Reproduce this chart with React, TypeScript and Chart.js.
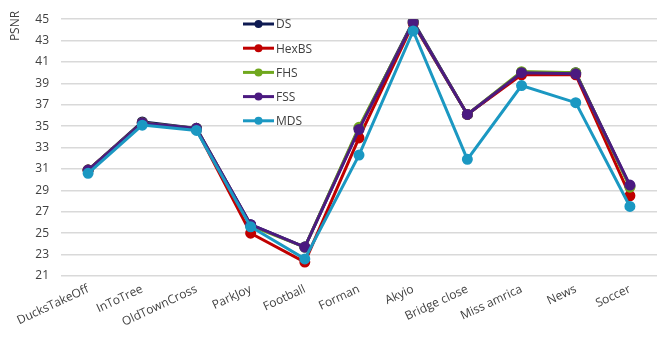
import React, { useEffect, useRef } from "react";
import { Chart, registerables } from "chart.js";

Chart.register(...registerables);

const categories = ["DucksTakeOff", "InToTree", "OldTownCross", "ParkJoy", "Football", "Forman", "Akyio", "Bridge close", "Miss amrica", "News", "Soccer"];
const seriesNames = ["DS", "HexBS", "FHS", "FSS", "MDS"];
const dsValues = [30.9, 35.4, 34.8, 25.8, 23.7, 34.8, 44.8, 36.1, 40.0, 40.0, 29.4];
const hexbsValues = [30.9, 35.3, 34.7, 25.0, 22.3, 33.9, 44.6, 36.1, 39.8, 39.8, 28.5];
const fhsValues = [30.9, 35.3, 34.8, 25.7, 23.7, 34.9, 44.7, 36.1, 40.1, 40.0, 29.3];
const fssValues = [30.9, 35.3, 34.8, 25.8, 23.7, 34.7, 44.7, 36.1, 40.0, 39.9, 29.5];
const mdsValues = [30.6, 35.1, 34.6, 25.6, 22.6, 32.3, 43.9, 31.9, 38.8, 37.2, 27.5];
const seriesColors = ["#0e1a52", "#c00000", "#70a81e", "#4b1a80", "#1b98c2"];
const yMin = 21;
const yMax = 45;
const yStep = 2;

const FONT = "'Open Sans', 'Liberation Sans', sans-serif";

const legendPlugin = {
  id: "insideLegend",
  afterDraw(chart: any) {
    const ctx = chart.ctx;
    ctx.save();
    chart.data.datasets.forEach((ds: any, i: number) => {
      const y = 24 + i * 24.2;
      ctx.strokeStyle = ds.borderColor;
      ctx.lineWidth = 3;
      ctx.beginPath();
      ctx.moveTo(243, y);
      ctx.lineTo(274, y);
      ctx.stroke();
      ctx.fillStyle = ds.borderColor;
      ctx.beginPath();
      ctx.arc(258.5, y, 4, 0, Math.PI * 2);
      ctx.fill();
      ctx.fillStyle = "#404040";
      ctx.font = `12px ${FONT}`;
      ctx.textBaseline = "middle";
      ctx.textAlign = "left";
      ctx.fillText(ds.label, 276, y + 1);
    });
    ctx.translate(16, 26);
    ctx.rotate(-Math.PI / 2);
    ctx.fillStyle = "#404040";
    ctx.font = `12px ${FONT}`;
    ctx.textAlign = "center";
    ctx.textBaseline = "middle";
    ctx.fillText("PSNR", 0, 0);
    ctx.restore();
  },
};

export default function App() {
  const ref = useRef<HTMLCanvasElement>(null);
  useEffect(() => {
    const all = [dsValues, hexbsValues, fhsValues, fssValues, mdsValues];
    const chart = new Chart(ref.current!, {
      type: "line",
      data: {
        labels: categories,
        datasets: all.map((vals, i) => ({
          label: seriesNames[i],
          data: vals,
          borderColor: seriesColors[i],
          backgroundColor: seriesColors[i],
          pointBackgroundColor: seriesColors[i],
          pointBorderColor: seriesColors[i],
          borderWidth: 3,
          pointRadius: 4,
          tension: 0,
          order: 4 - i,
        })),
      },
      options: {
        animation: false,
        responsive: false,
        layout: { padding: { top: 11, right: 8, left: 0, bottom: 0 } },
        plugins: { legend: { display: false }, tooltip: { enabled: false } },
        scales: {
          x: {
            offset: true,
            grid: { display: false, drawTicks: false },
            border: { display: false },
            ticks: {
              color: "#404040",
              font: { family: FONT, size: 12 },
              minRotation: 25,
              maxRotation: 25,
              autoSkip: false,
              padding: 6,
            },
            afterFit: (s: any) => { s.height = 66; },
          },
          y: {
            min: yMin,
            max: yMax,
            grid: { color: "#d9d9d9", lineWidth: 1.5, drawTicks: false },
            border: { display: false },
            ticks: {
              stepSize: yStep,
              color: "#404040",
              font: { family: FONT, size: 12 },
              padding: 12,
            },
            afterFit: (s: any) => { s.width = 61; },
          },
        },
      },
      plugins: [legendPlugin],
    });
    return () => chart.destroy();
  }, []);
  return (
    <div style={{ position: "fixed", left: 0, top: 0, width: 665, height: 342, background: "#fff" }}>
      <canvas ref={ref} width={665} height={342} />
    </div>
  );
}
